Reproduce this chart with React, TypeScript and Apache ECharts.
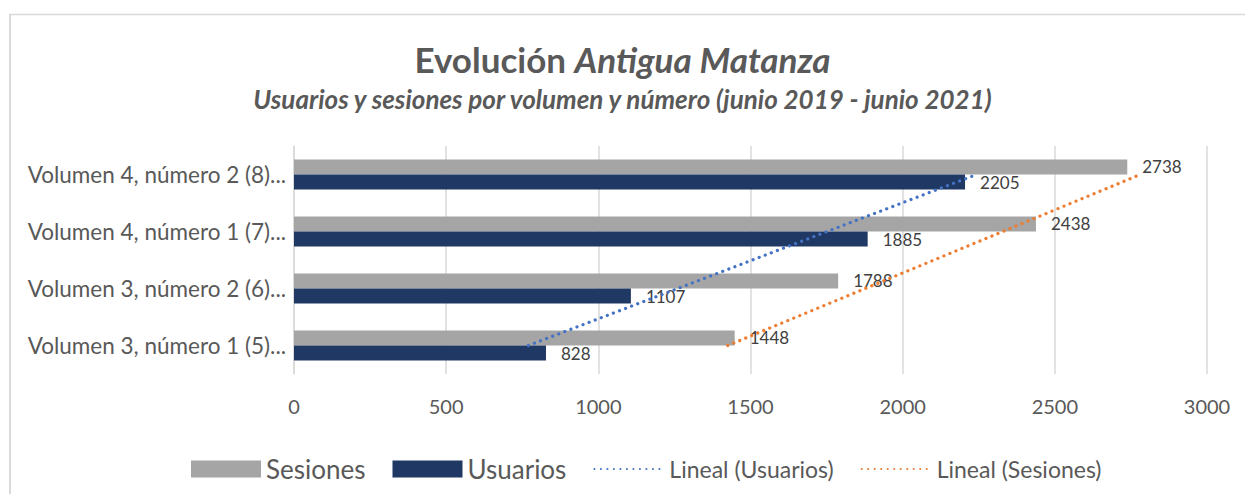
import React, { useEffect, useRef } from "react";
import * as echarts from "echarts";

const categories = [
  "Volumen 3, número 1 (5)...",
  "Volumen 3, número 2 (6)...",
  "Volumen 4, número 1 (7)...",
  "Volumen 4, número 2 (8)...",
];
const sesiones = [1448, 1788, 2438, 2738];
const usuarios = [828, 1107, 1885, 2205];
const linealUsuarios = [770, 1261, 1752, 2243];
const linealSesiones = [1425, 1877, 2329, 2781];
const xTicks = [0, 500, 1000, 1500, 2000, 2500, 3000];

const FONT = "Lato, 'Noto Sans', sans-serif";
const GREY_TEXT = "#595959";

export default function App() {
  const ref = useRef<HTMLDivElement>(null);
  useEffect(() => {
    document.body.style.margin = "0";
    const chart = echarts.init(ref.current!, null, { renderer: "svg" });
    const dotted = { type: [0.1, 6.4] as any, width: 3.2, cap: "round" as const };
    chart.setOption({
      animation: false,
      backgroundColor: "#ffffff",
      textStyle: { fontFamily: FONT },
      title: [
        {
          text: "{a|Evolución }{b|Antigua Matanza}",
          left: "center",
          top: 36,
          textStyle: {
            rich: {
              a: { fontSize: 35, fontWeight: "bold", color: GREY_TEXT, fontFamily: FONT },
              b: { fontSize: 35, fontWeight: "bold", fontStyle: "italic", color: GREY_TEXT, fontFamily: FONT },
            },
          },
        },
        {
          text: "Usuarios y sesiones por volumen y número (junio 2019 - junio 2021)",
          left: "center",
          top: 81,
          textStyle: {
            fontSize: 26,
            fontWeight: "bold",
            fontStyle: "italic",
            color: GREY_TEXT,
            fontFamily: FONT,
          },
        },
      ],
      legend: {
        top: 451,
        left: 186,
        itemWidth: 70,
        itemHeight: 17,
        itemGap: 27,
        textStyle: { color: GREY_TEXT, fontFamily: FONT },
        data: [
          { name: "Sesiones", icon: "rect", textStyle: { fontSize: 26, color: GREY_TEXT } },
          { name: "Usuarios", icon: "rect", textStyle: { fontSize: 26, color: GREY_TEXT } },
          { name: "Lineal (Usuarios)", itemStyle: { opacity: 0 }, textStyle: { fontSize: 23, color: GREY_TEXT } },
          { name: "Lineal (Sesiones)", itemStyle: { opacity: 0 }, textStyle: { fontSize: 23, color: GREY_TEXT } },
        ],
      },
      grid: { left: 294, right: 38, top: 146, bottom: 120, containLabel: false },
      xAxis: {
        type: "value",
        min: 0,
        max: 3000,
        interval: 500,
        axisLine: { show: false },
        axisTick: { show: false },
        axisLabel: {
          margin: 22,
          fontSize: 20,
          color: GREY_TEXT,
          formatter: (v: number) => (xTicks.includes(v) ? String(v) : ""),
        },
        splitLine: { lineStyle: { color: "#d9d9d9", width: 1.5 } },
      },
      yAxis: {
        type: "category",
        data: categories,
        axisLine: { show: true, lineStyle: { color: "#d9d9d9", width: 1.5 } },
        axisTick: { show: false },
        axisLabel: { margin: 8, fontSize: 22.5, color: GREY_TEXT },
      },
      series: [
        {
          name: "Sesiones",
          type: "bar",
          data: sesiones,
          barGap: "0%",
          barCategoryGap: "47%",
          itemStyle: { color: "#a5a5a5" },
          label: { show: true, position: "right", distance: 15, fontSize: 17, color: "#404040" },
        },
        {
          name: "Usuarios",
          type: "bar",
          data: usuarios,
          barGap: "0%",
          barCategoryGap: "47%",
          itemStyle: { color: "#203864" },
          label: { show: true, position: "right", distance: 15, fontSize: 17, color: "#404040" },
        },
        {
          name: "Lineal (Usuarios)",
          type: "line",
          data: linealUsuarios,
          symbol: "none",
          z: 5,
          itemStyle: { color: "#4472c4" },
          lineStyle: { color: "#4472c4", ...dotted },
        },
        {
          name: "Lineal (Sesiones)",
          type: "line",
          data: linealSesiones,
          symbol: "none",
          z: 5,
          itemStyle: { color: "#ed7d31" },
          lineStyle: { color: "#ed7d31", ...dotted },
        },
      ],
      graphic: [
        { type: "line", shape: { x1: 9, y1: 14.5, x2: 1245, y2: 14.5 }, style: { stroke: "#d9d9d9", lineWidth: 1.5 } },
        { type: "line", shape: { x1: 10, y1: 14, x2: 10, y2: 494 }, style: { stroke: "#d9d9d9", lineWidth: 2 } },
      ],
    });
    return () => chart.dispose();
  }, []);
  return <div ref={ref} style={{ width: 1245, height: 494 }} />;
}
